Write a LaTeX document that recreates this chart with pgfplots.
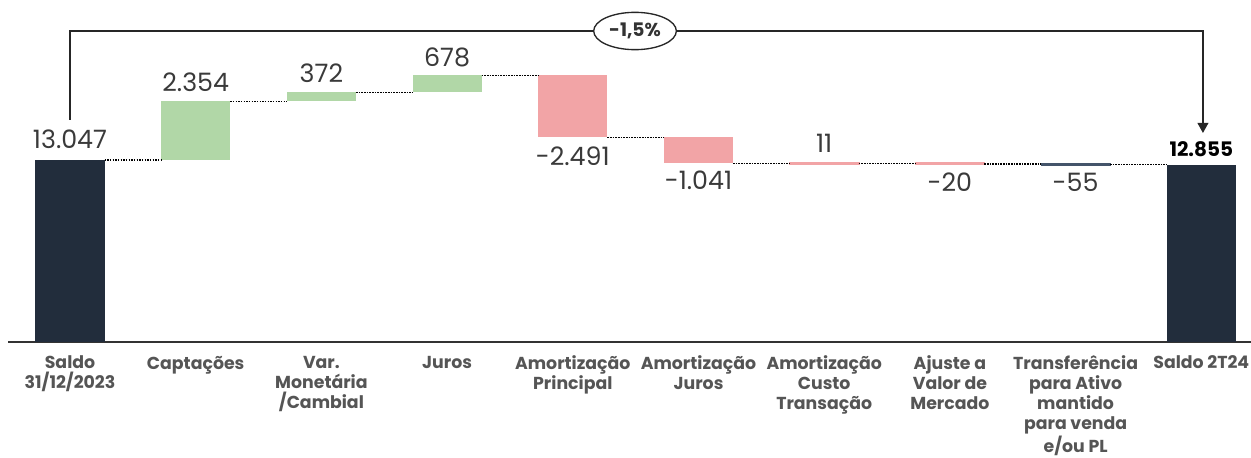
\documentclass[border=0pt]{standalone}
\usepackage{fontspec}
\setmainfont{Poppins}
\usepackage{pgfplots}
\pgfplotsset{compat=1.18}
\usetikzlibrary{arrows.meta,shapes.geometric}
\definecolor{navy}{HTML}{222D3C}
\definecolor{wgreen}{HTML}{B1D7A7}
\definecolor{wpink}{HTML}{F2A4A6}
\definecolor{thinbar}{HTML}{44546A}
\definecolor{lbl}{HTML}{3A3A3A}
\definecolor{cat}{HTML}{555555}
\begin{document}
\begin{tikzpicture}[x=1pt,y=1pt]
\useasboundingbox (0,-86.25) rectangle (938.25,256.5);
\begin{axis}[
 scale only axis, width=938.25pt, height=256.5pt,
 at={(0,0)}, anchor=south west,
 xmin=-0.5569, xmax=9.3954, ymin=5739, ymax=19474,
 axis line style={draw=none}, ytick=\empty,
 xtick={0,...,9}, major tick length=0pt,
 xticklabels={{Saldo\\31/12/2023},{Captações},{Var.\\Monetária\\/Cambial},{Juros},{Amortização\\Principal},{Amortização\\Juros},{Amortização\\Custo\\Transação},{Ajuste a\\Valor de\\Mercado},{Transferência\\para Ativo\\mantido\\para venda\\e/ou PL},{Saldo 2T24}},
 xticklabel style={align=center, font=\bfseries\fontsize{13}{15}\selectfont, text=cat, anchor=north, yshift=-7pt},
 clip=false,
]
% baseline
\addplot[color=black!80, line width=1.5pt] coordinates {(-0.493,5739) (9.3954,5739)};
% bars
\addplot[fill=navy, draw=none] coordinates {(-0.2745,5739) (0.2745,5739) (0.2745,13047) (-0.2745,13047)} -- cycle;
\addplot[fill=wgreen, draw=none] coordinates {(0.7255,13047) (1.2745,13047) (1.2745,15401) (0.7255,15401)} -- cycle;
\addplot[fill=wgreen, draw=none] coordinates {(1.7255,15401) (2.2745,15401) (2.2745,15773) (1.7255,15773)} -- cycle;
\addplot[fill=wgreen, draw=none] coordinates {(2.7255,15773) (3.2745,15773) (3.2745,16451) (2.7255,16451)} -- cycle;
\addplot[fill=wpink, draw=none] coordinates {(3.7255,16451) (4.2745,16451) (4.2745,13960) (3.7255,13960)} -- cycle;
\addplot[fill=wpink, draw=none] coordinates {(4.7255,13960) (5.2745,13960) (5.2745,12919) (4.7255,12919)} -- cycle;
\addplot[fill=wpink, draw=wpink, line width=2.2pt] coordinates {(5.73,12919) (6.27,12919) (6.27,12908) (5.73,12908)} -- cycle;
\addplot[fill=wpink, draw=wpink, line width=2.2pt] coordinates {(6.73,12908) (7.27,12908) (7.27,12888) (6.73,12888)} -- cycle;
\addplot[fill=thinbar, draw=thinbar, line width=1.5pt] coordinates {(7.73,12888) (8.27,12888) (8.27,12833) (7.73,12833)} -- cycle;
\addplot[fill=navy, draw=none] coordinates {(8.7255,5739) (9.2745,5739) (9.2745,12855) (8.7255,12855)} -- cycle;
% connectors
\pgfplotsset{conn/.style={black, line width=0.9pt, dash pattern=on 1.2pt off 0.8pt}}
\addplot[conn] coordinates {(0.2745,13047) (0.7255,13047)};
\addplot[conn] coordinates {(1.2745,15401) (1.7255,15401)};
\addplot[conn] coordinates {(2.2745,15773) (2.7255,15773)};
\addplot[conn] coordinates {(3.2745,16451) (3.7255,16451)};
\addplot[conn] coordinates {(4.2745,13960) (4.7255,13960)};
\addplot[conn] coordinates {(5.2745,12919) (5.7255,12919)};
\addplot[conn] coordinates {(6.2745,12908) (6.7255,12908)};
\addplot[conn] coordinates {(7.2745,12888) (7.7255,12888)};
\addplot[conn] coordinates {(8.2745,12855) (8.7255,12855)};
% value labels
\addplot[draw=none, nodes near coords, point meta=explicit symbolic,
  every node near coord/.style={anchor=center, inner sep=0pt, font=\fontsize{19}{19}\selectfont, text=lbl}]
  coordinates {(0,13892)[13.047] (1,16181)[2.354] (2,16542)[372] (3,17185)[678] (4,13209)[-2.491] (5,12245)[-1.041] (6,13731)[11] (7,12165)[-20] (8,12165)[-55]};
\addplot[draw=none, nodes near coords, point meta=explicit symbolic,
  every node near coord/.style={anchor=center, inner sep=0pt, font=\bfseries\fontsize{15}{15}\selectfont, text=black}]
  coordinates {(9,13490)[12.855]};
% bracket
\draw[line width=1.2pt, black!85, -{Triangle[length=7.5pt,width=8pt]}] (axis cs:0,14655) |- (axis cs:9.013,18229) -- (axis cs:9.013,14133);
\node[ellipse, draw=black!85, line width=1pt, fill=white, minimum width=62pt, minimum height=28pt, inner sep=0pt, font=\bfseries\fontsize{14}{14}\selectfont, text=black!80] at (axis cs:4.495,18229) {-1,5\%};
\end{axis}
\end{tikzpicture}
\end{document}
